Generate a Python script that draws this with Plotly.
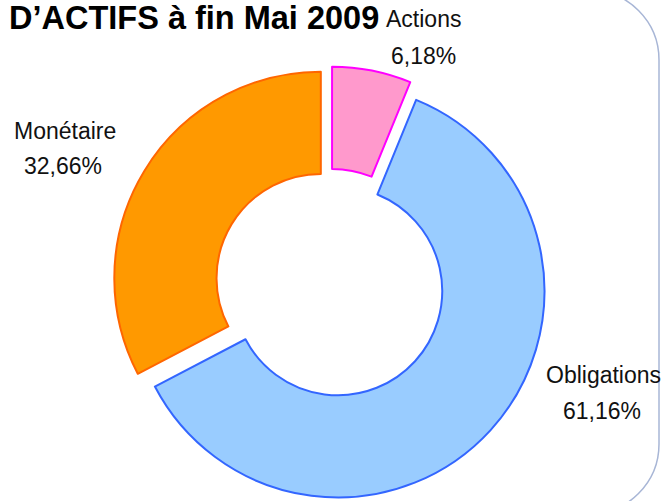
import plotly.graph_objects as go

# ---- data ----
categories = ["Actions", "Obligations", "Monétaire"]
values = [6.18, 61.16, 32.66]
value_labels = ["6,18%", "61,16%", "32,66%"]
title_text = "D’ACTIFS à fin Mai 2009"

fill_colors = ["#FF99CC", "#99CCFF", "#FF9900"]
line_colors = ["#FF00FF", "#3366FF", "#FF6600"]

W, H = 663, 501


def px(x):
    return x / W


def py(y):
    return 1 - y / H


fig = go.Figure()
fig.add_trace(go.Pie(
    labels=categories,
    values=values,
    sort=False,
    direction="clockwise",
    rotation=0,
    hole=0.505,
    pull=[0.052, 0.052, 0.052],
    marker=dict(colors=fill_colors, line=dict(color=line_colors, width=2)),
    textinfo="none",
    hoverinfo="skip",
    showlegend=False,
    domain=dict(x=[px(112.3), px(547.7)], y=[py(501), py(66.5)]),
))

font_family = "Arial, Liberation Sans, sans-serif"
label_pos = {
    "Actions": ((424, 19), (423.5, 55.5)),
    "Monétaire": ((64.5, 131.5), (63, 166)),
    "Obligations": ((603.5, 375), (602, 411)),
}
annotations = []
for cat, lab in zip(categories, value_labels):
    (x1, y1), (x2, y2) = label_pos[cat]
    annotations.append(dict(x=px(x1), y=py(y1), xref="paper", yref="paper",
                            text=cat, showarrow=False, xanchor="center", yanchor="middle",
                            font=dict(family=font_family, size=23, color="#111111")))
    annotations.append(dict(x=px(x2), y=py(y2), xref="paper", yref="paper",
                            text=lab, showarrow=False, xanchor="center", yanchor="middle",
                            font=dict(family=font_family, size=23, color="#111111")))

annotations.append(dict(x=px(7), y=py(17.5), xref="paper", yref="paper",
                        text="<b>" + title_text + "</b>", showarrow=False,
                        xanchor="left", yanchor="middle",
                        font=dict(family=font_family, size=32.5, color="#000000")))

# rounded frame (right part visible)
k = 0.5523
r = 70
cxr, top, right, bottom = 589, -10, 659, 514
pts = [
    ("M", [(480, top)]),
    ("L", [(cxr, top)]),
    ("C", [(cxr + k * r, top), (right, top + r - k * r), (right, top + r)]),
    ("L", [(right, bottom - r)]),
    ("C", [(right, bottom - r + k * r), (cxr + k * r, bottom), (cxr, bottom)]),
    ("L", [(480, bottom)]),
]
path = ""
for cmd, plist in pts:
    path += cmd + " " + " ".join(f"{px(a):.5f},{py(b):.5f}" for a, b in plist) + " "

fig.update_layout(
    width=W, height=H,
    margin=dict(l=0, r=0, t=0, b=0),
    paper_bgcolor="white",
    plot_bgcolor="white",
    annotations=annotations,
    shapes=[dict(type="path", path=path.strip(), xref="paper", yref="paper",
                 line=dict(color="#A8B6D6", width=1.5), layer="below")],
)

fig.write_html("out.html",
               config={"displayModeBar": False},
               post_script="document.body.style.margin='0';document.body.style.overflow='hidden';")
